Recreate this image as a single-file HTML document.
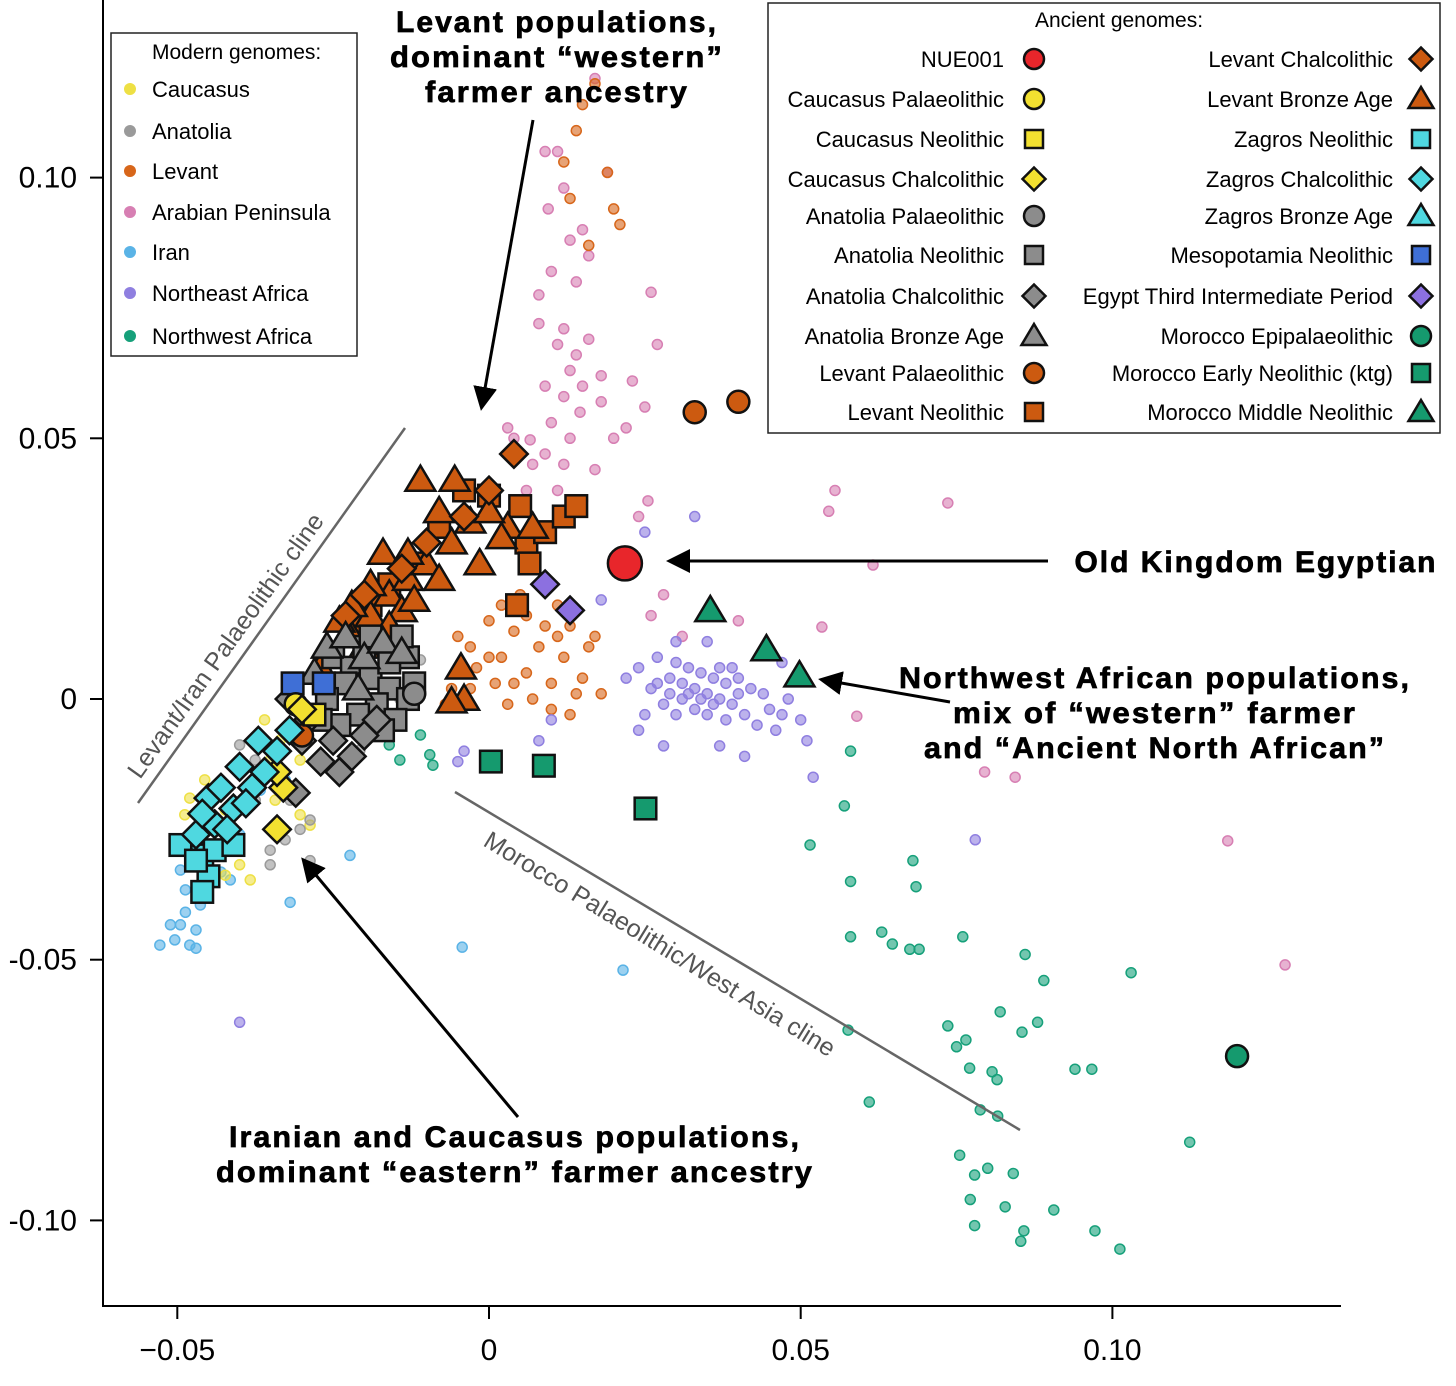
<!DOCTYPE html>
<html><head><meta charset="utf-8"><style>
html,body{margin:0;padding:0;background:#fff;}
svg{display:block;font-family:"Liberation Sans",sans-serif;}
.ann{font-family:"Liberation Sans",sans-serif;font-weight:bold;font-size:30px;fill:#000;stroke:#000;stroke-width:0.7;letter-spacing:2px;}
</style></head><body>
<svg id="chart" width="1456" height="1386" viewBox="0 0 1456 1386" xmlns="http://www.w3.org/2000/svg">
<defs><marker id="ah" markerWidth="8" markerHeight="8" refX="6" refY="4" orient="auto"><path d="M0,0 L8,4 L0,8 z" fill="#000"/></marker></defs>
<g id="axes"></g>
<g id="modern"></g>
<g id="ancient"></g>
<g>
<line x1="138" y1="803" x2="405" y2="428" stroke="#666" stroke-width="2.5"/>
<text x="0" y="0" font-size="25" fill="#555" transform="translate(140,780) rotate(-54.5)">Levant/Iran Palaeolithic cline</text>
<line x1="455" y1="792" x2="1020" y2="1130" stroke="#666" stroke-width="2.5"/>
<text x="0" y="0" font-size="25" fill="#555" transform="translate(482,845) rotate(31.5)">Morocco Palaeolithic/West Asia cline</text>
<line x1="533" y1="120" x2="482" y2="405" stroke="#000" stroke-width="3" marker-end="url(#ah)"/>
<line x1="1048" y1="561" x2="672" y2="561" stroke="#000" stroke-width="3" marker-end="url(#ah)"/>
<line x1="950" y1="702" x2="824" y2="680" stroke="#000" stroke-width="3" marker-end="url(#ah)"/>
<line x1="518" y1="1117" x2="305" y2="862" stroke="#000" stroke-width="3" marker-end="url(#ah)"/>
<text class="ann" text-anchor="middle"><tspan x="557" y="32" textLength="322" lengthAdjust="spacingAndGlyphs">Levant populations,</tspan><tspan x="557" y="67" textLength="334" lengthAdjust="spacingAndGlyphs">dominant “western”</tspan><tspan x="557" y="102" textLength="264" lengthAdjust="spacingAndGlyphs">farmer ancestry</tspan></text>
<text class="ann" x="1256" y="572" text-anchor="middle" textLength="363" lengthAdjust="spacingAndGlyphs">Old Kingdom Egyptian</text>
<text class="ann" text-anchor="middle"><tspan x="1155" y="688" textLength="512" lengthAdjust="spacingAndGlyphs">Northwest African populations,</tspan><tspan x="1155" y="723" textLength="404" lengthAdjust="spacingAndGlyphs">mix of “western” farmer</tspan><tspan x="1155" y="758" textLength="462" lengthAdjust="spacingAndGlyphs">and “Ancient North African”</tspan></text>
<text class="ann" text-anchor="middle"><tspan x="515" y="1147" textLength="572" lengthAdjust="spacingAndGlyphs">Iranian and Caucasus populations,</tspan><tspan x="515" y="1182" textLength="598" lengthAdjust="spacingAndGlyphs">dominant “eastern” farmer ancestry</tspan></text>
</g>
<g id="legend1"></g>
<g id="legend2"></g>
</svg>
<script>
const xTicks=[-0.05,0,0.05,0.10];
const xTickLabels=["\u22120.05","0","0.05","0.10"];
const yTicks=[0.10,0.05,0,-0.05,-0.10];
const yTickLabels=["0.10","0.05","0","-0.05","-0.10"];
const caucasusModern=[[-0.0456,-0.0155],[-0.048,-0.019],[-0.044,-0.0184],[-0.0423,-0.0213],[-0.040,-0.0318],[-0.0383,-0.0347],[-0.0423,-0.0338],[-0.0351,-0.0117],[-0.036,-0.004],[-0.0335,-0.0079],[-0.0303,-0.0117],[-0.0343,-0.0194],[-0.0303,-0.0222],[-0.0287,-0.0242],[-0.0464,-0.0251],[-0.0488,-0.0222]];
const anatoliaModern=[[-0.040,-0.0088],[-0.0375,-0.0117],[-0.0351,-0.029],[-0.0327,-0.027],[-0.0303,-0.025],[-0.0287,-0.0232],[-0.0319,-0.0194],[-0.0271,-0.0117],[-0.0239,-0.0079],[-0.0207,-0.0098],[-0.0175,-0.004],[-0.0143,0.0],[-0.0127,0.0036],[-0.011,0.0075],[-0.0351,-0.0318],[-0.0287,-0.031],[-0.0375,-0.0194]];
const levantModern=[[0.017,0.118],[0.015,0.114],[0.014,0.109],[0.012,0.103],[0.013,0.096],[0.019,0.101],[0.020,0.094],[0.016,0.087],[0.021,0.091],[-0.005,0.012],[-0.003,0.010],[0.0,0.015],[0.002,0.008],[0.004,0.013],[0.006,0.005],[0.008,0.010],[0.010,0.003],[0.012,0.008],[0.014,0.001],[0.005,0.020],[0.008,0.022],[0.011,0.018],[0.001,0.003],[-0.002,0.006],[0.003,-0.001],[0.007,0.0],[0.010,-0.002],[0.013,-0.003],[0.015,0.004],[-0.004,0.006],[-0.006,0.002],[-0.003,0.002],[0.009,0.014],[0.002,0.018],[0.006,0.016],[0.011,0.012],[0.016,0.010],[0.018,0.001],[0.013,0.014],[0.0,0.008],[0.004,0.003],[-0.007,-0.001],[0.017,0.012]];
const arabianModern=[[0.011,0.105],[0.017,0.119],[0.019,0.101],[0.0095,0.094],[0.013,0.088],[0.008,0.0775],[0.012,0.071],[0.013,0.063],[0.0146,0.055],[0.0066,0.0497],[0.026,0.078],[0.027,0.068],[0.023,0.061],[0.025,0.056],[0.017,0.044],[0.0255,0.038],[0.0555,0.040],[0.0545,0.036],[0.0736,0.0376],[0.0616,0.0257],[0.0534,0.0138],[0.059,-0.0033],[0.0844,-0.015],[0.0795,-0.014],[0.1185,-0.0272],[0.1277,-0.051],[0.009,0.105],[0.012,0.098],[0.015,0.090],[0.016,0.085],[0.010,0.082],[0.014,0.080],[0.008,0.072],[0.011,0.068],[0.014,0.066],[0.016,0.069],[0.009,0.060],[0.012,0.058],[0.015,0.060],[0.018,0.062],[0.010,0.053],[0.013,0.050],[0.007,0.045],[0.009,0.047],[0.004,0.050],[0.012,0.045],[0.020,0.050],[0.022,0.052],[0.018,0.057],[0.011,0.040],[0.015,0.038],[0.024,0.035],[0.028,0.020],[0.031,0.012],[0.026,0.016],[0.040,0.015],[0.003,0.052],[0.006,0.040]];
const iranModern=[[-0.0528,-0.0472],[-0.0504,-0.0462],[-0.048,-0.0472],[-0.047,-0.0443],[-0.0495,-0.0433],[-0.0511,-0.0433],[-0.0487,-0.0409],[-0.0463,-0.0395],[-0.0487,-0.0366],[-0.0495,-0.0328],[-0.0447,-0.0347],[-0.043,-0.0332],[-0.0415,-0.0347],[-0.047,-0.0478],[-0.040,-0.026],[-0.0319,-0.039],[-0.0223,-0.030],[-0.0043,-0.0476],[0.0215,-0.052],[-0.039,-0.0213],[-0.0367,-0.0175],[-0.0327,-0.0155]];
const neAfricaModern=[[0.022,0.004],[0.024,0.006],[0.026,0.002],[0.027,0.008],[0.028,-0.001],[0.029,0.004],[0.030,0.007],[0.031,0.0],[0.031,0.003],[0.032,0.006],[0.033,-0.002],[0.033,0.002],[0.034,0.005],[0.035,0.001],[0.035,-0.003],[0.036,0.004],[0.037,0.000],[0.038,0.003],[0.038,-0.004],[0.039,0.006],[0.040,0.001],[0.041,-0.003],[0.042,0.002],[0.043,-0.005],[0.045,-0.002],[0.046,-0.006],[0.047,-0.003],[0.025,-0.003],[0.027,0.003],[0.029,0.001],[0.030,-0.003],[0.032,0.001],[0.034,0.0],[0.036,-0.001],[0.037,0.006],[0.039,-0.001],[0.040,0.004],[0.044,0.001],[0.048,0.0],[0.047,0.007],[0.050,-0.004],[0.051,-0.008],[0.028,-0.009],[0.037,-0.009],[0.041,-0.011],[0.030,0.011],[0.035,0.011],[0.024,-0.006],[0.010,-0.004],[0.008,-0.008],[-0.004,-0.010],[-0.005,-0.012],[0.018,0.019],[0.033,0.035],[0.025,0.032],[0.052,-0.015],[0.078,-0.027],[-0.040,-0.062]];
const nwAfricaModern=[[0.058,-0.010],[0.057,-0.0205],[0.0515,-0.028],[0.058,-0.035],[0.068,-0.031],[0.0685,-0.036],[0.058,-0.0456],[0.063,-0.0447],[0.0647,-0.047],[0.0675,-0.048],[0.069,-0.048],[0.076,-0.0456],[0.086,-0.049],[0.089,-0.054],[0.103,-0.0525],[0.0736,-0.0627],[0.0765,-0.0654],[0.075,-0.0667],[0.082,-0.060],[0.0855,-0.0639],[0.088,-0.062],[0.0771,-0.0708],[0.0807,-0.0715],[0.0815,-0.073],[0.0788,-0.0788],[0.0816,-0.080],[0.094,-0.071],[0.0967,-0.071],[0.061,-0.0773],[0.0576,-0.0635],[0.0755,-0.0875],[0.0779,-0.0913],[0.080,-0.090],[0.0841,-0.091],[0.0772,-0.096],[0.0779,-0.101],[0.0828,-0.0974],[0.0858,-0.102],[0.0853,-0.104],[0.0906,-0.098],[0.0972,-0.102],[0.1012,-0.1055],[0.1124,-0.085],[-0.0143,-0.0117],[-0.0095,-0.0107],[-0.016,-0.0088],[-0.011,-0.0069],[-0.009,-0.0127]];
const anatoliaNeolithic=[[-0.025,0.008],[-0.022,0.006],[-0.019,0.004],[-0.016,0.002],[-0.013,0.0],[-0.013,0.008],[-0.016,0.007],[-0.020,0.010],[-0.023,0.003],[-0.026,0.0],[-0.018,-0.001],[-0.015,-0.004],[-0.012,0.003],[-0.021,-0.003],[-0.024,-0.005],[-0.027,-0.004],[-0.019,0.012],[-0.014,0.012],[-0.017,-0.006]];
const anatoliaChalcolithic=[[-0.032,0.0],[-0.029,-0.004],[-0.025,-0.008],[-0.022,-0.011],[-0.030,-0.008],[-0.027,-0.012],[-0.031,-0.018],[-0.020,-0.007],[-0.018,-0.004],[-0.024,-0.014]];
const anatoliaBronze=[[-0.026,0.010],[-0.023,0.012],[-0.020,0.008],[-0.017,0.011],[-0.014,0.009],[-0.028,0.005],[-0.021,0.002]];
const anatoliaPalaeolithic=[[-0.012,0.001]];
const levantBronze=[[-0.0255,0.009],[-0.022,0.012],[-0.019,0.016],[-0.016,0.020],[-0.013,0.023],[-0.010,0.026],[-0.006,0.030],[-0.003,0.034],[0.003,0.033],[-0.0055,0.042],[-0.011,0.042],[-0.008,0.036],[-0.014,0.017],[-0.019,0.022],[-0.024,0.015],[-0.020,0.010],[-0.016,0.014],[-0.012,0.019],[-0.008,0.023],[0.0,0.036],[0.002,0.031],[-0.017,0.028],[-0.013,0.028],[-0.027,0.006],[-0.004,0.0],[-0.006,-0.0005],[-0.0045,0.006],[0.007,0.033],[-0.0015,0.026],[-0.022,0.018]];
const levantNeolithic=[[0.006,0.030],[0.009,0.032],[0.012,0.035],[0.014,0.037],[0.0065,0.026],[0.0045,0.018],[0.0,0.039],[-0.004,0.040],[-0.008,0.033],[-0.012,0.026],[-0.016,0.022],[-0.019,0.018],[-0.022,0.014],[0.005,0.037]];
const levantChalcolithic=[[0.004,0.047],[-0.004,0.035],[-0.010,0.030],[-0.014,0.025],[-0.020,0.020],[-0.023,0.016],[0.0,0.040]];
const levantPalaeolithic=[[0.033,0.055],[0.040,0.057],[-0.030,-0.007]];
const caucasusPalaeolithic=[[-0.031,-0.001]];
const caucasusNeolithic=[[-0.028,-0.003]];
const caucasusChalcolithic=[[-0.034,-0.025],[-0.033,-0.017],[-0.030,-0.002],[-0.034,-0.014]];
const zagrosNeolithic=[[-0.0495,-0.028],[-0.046,-0.030],[-0.045,-0.034],[-0.046,-0.037],[-0.044,-0.029],[-0.041,-0.028],[-0.047,-0.031]];
const zagrosChalcolithic=[[-0.047,-0.026],[-0.044,-0.024],[-0.041,-0.021],[-0.038,-0.017],[-0.036,-0.014],[-0.034,-0.010],[-0.032,-0.006],[-0.045,-0.019],[-0.043,-0.017],[-0.040,-0.013],[-0.042,-0.025],[-0.037,-0.008],[-0.046,-0.022],[-0.039,-0.020]];
const mesopotamiaNeolithic=[[-0.0315,0.003],[-0.0265,0.003]];
const egyptTIP=[[0.009,0.022],[0.013,0.017]];
const moroccoEN=[[0.0003,-0.0120],[0.0088,-0.0128],[0.0251,-0.0210]];
const moroccoMN=[[0.0355,0.017],[0.0445,0.0095],[0.0498,0.0045]];
const moroccoEpi=[[0.120,-0.0685]];
const nue001=[[0.0218,0.026]];

const NS="http://www.w3.org/2000/svg";
function xs(v){return 489+v*6234;}
function ys(v){return 699-v*5214;}
function mk(tag,attrs,parent){const e=document.createElementNS(NS,tag);for(const k in attrs)e.setAttribute(k,attrs[k]);parent.appendChild(e);return e;}
const axes=document.getElementById('axes');
let ln=mk('line',{x1:103,y1:0,x2:103,y2:1306,stroke:'#000','stroke-width':2},axes);


ln=mk('line',{x1:102,y1:1306,x2:1341,y2:1306,stroke:'#000','stroke-width':2},axes);


xTicks.forEach((t,i)=>{const x=xs(t);
 const tk=mk('line',{x1:x,y1:1306,x2:x,y2:1319,stroke:'#000','stroke-width':2},axes);
 
 
 const tx=mk('text',{x:x,y:1360,'text-anchor':'middle','font-size':30,fill:'#000'},axes);tx.textContent=xTickLabels[i];
 
 });
yTicks.forEach((t,i)=>{const y=ys(t);
 const tk=mk('line',{x1:90,y1:y,x2:103,y2:y,stroke:'#000','stroke-width':2},axes);
 
 
 const tx=mk('text',{x:77,y:y+10,'text-anchor':'end','font-size':30,fill:'#000'},axes);tx.textContent=yTickLabels[i];
 
 });

const modern=document.getElementById('modern');
const modernSeries=[[arabianModern,'#d77fb3','arabian'],[levantModern,'#d7661a','levant'],[neAfricaModern,'#8f7fe0','ne-africa'],[nwAfricaModern,'#16a07a','nw-africa'],[iranModern,'#5ab3e6','iran'],[caucasusModern,'#eee044','caucasus'],[anatoliaModern,'#9a9a9a','anatolia']];
modernSeries.forEach(([arr,c,n])=>arr.forEach(p=>{
 const e=mk('circle',{cx:xs(p[0]),cy:ys(p[1]),r:5,fill:c,'fill-opacity':0.6,stroke:c,'stroke-width':1.5},modern);
 
 }));

function shape(g,type,x,y,s,fill){
 let e;
 if(type==='circle')e=mk('circle',{cx:x,cy:y,r:s},g);
 else if(type==='square')e=mk('rect',{x:x-s*0.9,y:y-s*0.9,width:s*1.8,height:s*1.8},g);
 else if(type==='diamond')e=mk('polygon',{points:`${x},${y-s*1.15} ${x+s*1.15},${y} ${x},${y+s*1.15} ${x-s*1.15},${y}`},g);
 else e=mk('polygon',{points:`${x},${y-s*1.2} ${x+s*1.25},${y+s*0.9} ${x-s*1.25},${y+s*0.9}`},g);
 e.setAttribute('fill',fill);e.setAttribute('stroke','#111');e.setAttribute('stroke-width',2.5);
 return e;}
const ancient=document.getElementById('ancient');
const orange='#cc5a10',grey='#8c8c8c',yellow='#f2e030',cyan='#4fd8e0',green='#159a6e',blue='#3f6fd6',purple='#8c70e0',red='#e8262b';
const ancientSeries=[[levantNeolithic,'square',orange,'levant-neolithic'],[levantBronze,'triangle',orange,'levant-bronze-age'],[levantChalcolithic,'diamond',orange,'levant-chalcolithic'],[anatoliaNeolithic,'square',grey,'anatolia-neolithic'],[anatoliaBronze,'triangle',grey,'anatolia-bronze-age'],[anatoliaChalcolithic,'diamond',grey,'anatolia-chalcolithic'],[anatoliaPalaeolithic,'circle',grey,'anatolia-palaeolithic'],[levantPalaeolithic,'circle',orange,'levant-palaeolithic'],[mesopotamiaNeolithic,'square',blue,'mesopotamia-neolithic'],[caucasusNeolithic,'square',yellow,'caucasus-neolithic'],[caucasusPalaeolithic,'circle',yellow,'caucasus-palaeolithic'],[caucasusChalcolithic,'diamond',yellow,'caucasus-chalcolithic'],[zagrosNeolithic,'square',cyan,'zagros-neolithic'],[zagrosChalcolithic,'diamond',cyan,'zagros-chalcolithic'],[egyptTIP,'diamond',purple,'egypt-tip'],[moroccoEN,'square',green,'morocco-early-neolithic'],[moroccoMN,'triangle',green,'morocco-middle-neolithic'],[moroccoEpi,'circle',green,'morocco-epipalaeolithic']];
ancientSeries.forEach(([arr,t,c,n])=>arr.forEach(p=>{
 const e=shape(ancient,t,xs(p[0]),ys(p[1]),t==='circle'?11:12,c);
 
 }));
nue001.forEach(p=>{const e=shape(ancient,'circle',xs(p[0]),ys(p[1]),17,red);
 
 });

const l1=document.getElementById('legend1');
let r=mk('rect',{x:111,y:33,width:246,height:323,fill:'#fff',stroke:'#222','stroke-width':1.5},l1);


let tt=mk('text',{x:152,y:59,'font-size':21,fill:'#000'},l1);tt.textContent='Modern genomes:';


const l1Items=[['Caucasus','#eee044'],['Anatolia','#9a9a9a'],['Levant','#d7661a'],['Arabian Peninsula','#d77fb3'],['Iran','#5ab3e6'],['Northeast Africa','#8f7fe0'],['Northwest Africa','#16a07a']];
const l1Y=[89,131,171,212,252,293,336];
l1Items.forEach((it,i)=>{const g=mk('g',{},l1);
 
 
 mk('circle',{cx:130,cy:l1Y[i],r:6,fill:it[1]},g);
 const t=mk('text',{x:152,y:l1Y[i]+8,'font-size':22,fill:'#000'},g);t.textContent=it[0];});
const l2=document.getElementById('legend2');
r=mk('rect',{x:768,y:3,width:672,height:430,fill:'#fff',stroke:'#222','stroke-width':1.5},l2);


tt=mk('text',{x:1119,y:27,'font-size':21,fill:'#000','text-anchor':'middle'},l2);tt.textContent='Ancient genomes:';


const l2Y=[59,99,139,179,216,255,296,336,373,412];
const leftItems=[['NUE001','circle',red],['Caucasus Palaeolithic','circle',yellow],['Caucasus Neolithic','square',yellow],['Caucasus Chalcolithic','diamond',yellow],['Anatolia Palaeolithic','circle',grey],['Anatolia Neolithic','square',grey],['Anatolia Chalcolithic','diamond',grey],['Anatolia Bronze Age','triangle',grey],['Levant Palaeolithic','circle',orange],['Levant Neolithic','square',orange]];
const rightItems=[['Levant Chalcolithic','diamond',orange],['Levant Bronze Age','triangle',orange],['Zagros Neolithic','square',cyan],['Zagros Chalcolithic','diamond',cyan],['Zagros Bronze Age','triangle',cyan],['Mesopotamia Neolithic','square',blue],['Egypt Third Intermediate Period','diamond',purple],['Morocco Epipalaeolithic','circle',green],['Morocco Early Neolithic (ktg)','square',green],['Morocco Middle Neolithic','triangle',green]];
function l2entry(it,y,tx,mx){const g=mk('g',{},l2);
 
 
 const t=mk('text',{x:tx,y:y+8,'font-size':22,fill:'#000','text-anchor':'end'},g);t.textContent=it[0];
 shape(g,it[1],mx,y,10,it[2]);}
leftItems.forEach((it,i)=>l2entry(it,l2Y[i],1004,1034));
rightItems.forEach((it,i)=>l2entry(it,l2Y[i],1393,1421));
</script>
</body></html>
